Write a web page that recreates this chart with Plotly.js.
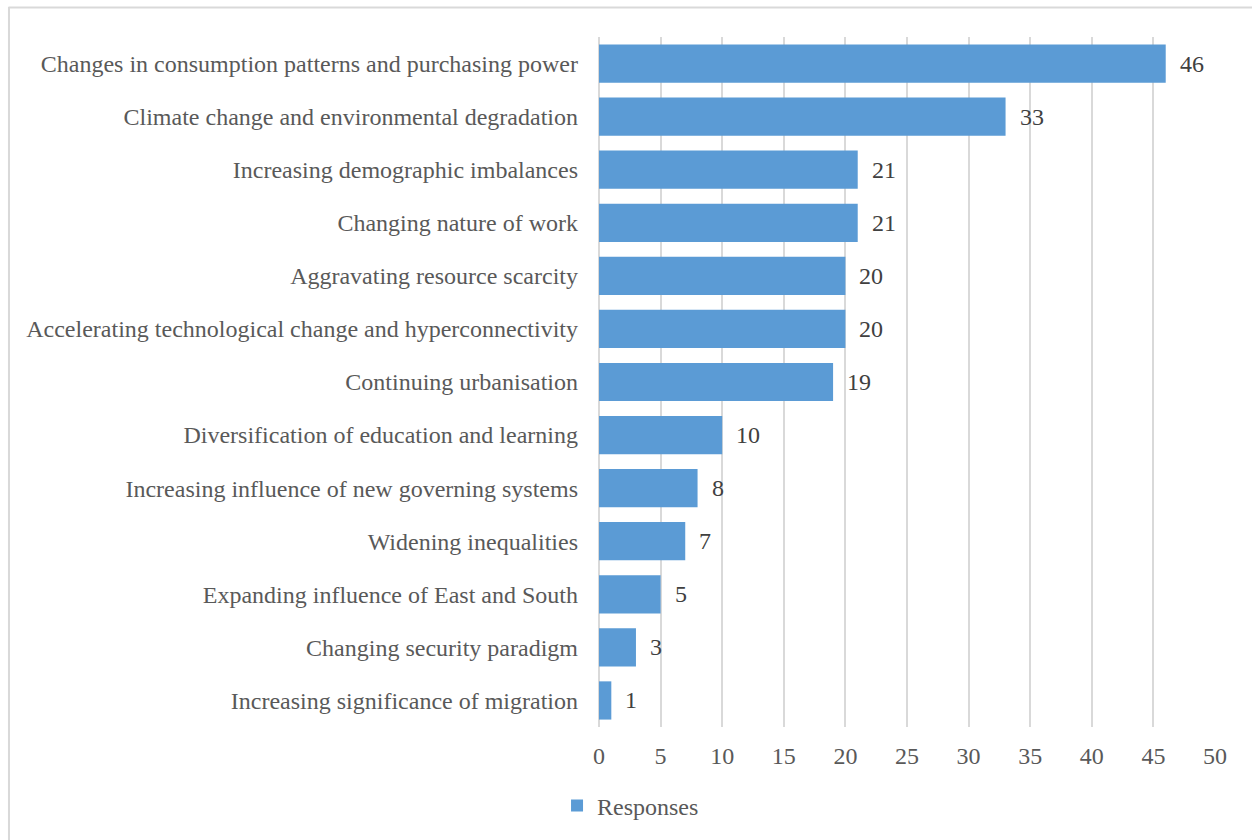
<!DOCTYPE html>
<html>
<head>
<meta charset="utf-8">
<script src="https://cdn.plot.ly/plotly-3.0.1.min.js"></script>
<style>
html,body{margin:0;padding:0;background:#fff;}
#chart{width:1252px;height:840px;}
</style>
</head>
<body>
<div id="chart"></div>
<script>
const categories = [
  "Changes in consumption patterns and purchasing power",
  "Climate change and environmental degradation",
  "Increasing demographic imbalances",
  "Changing nature of work",
  "Aggravating resource scarcity",
  "Accelerating technological change and hyperconnectivity",
  "Continuing urbanisation",
  "Diversification of education and learning",
  "Increasing influence of new governing systems",
  "Widening inequalities",
  "Expanding influence of East and South",
  "Changing security paradigm",
  "Increasing significance of migration"
];
const responses = [46, 33, 21, 21, 20, 20, 19, 10, 8, 7, 5, 3, 1];
const seriesName = "Responses";
const xTicks = [0, 5, 10, 15, 20, 25, 30, 35, 40, 45, 50];

const FONT = "'Liberation Serif', 'Times New Roman', serif";
const FS = 24;
const L = 599, R = 1215.5, T = 37, B = 727;
const W = 1252, H = 840;
const pw = R - L, ph = B - T;

const trace = {
  type: 'bar',
  orientation: 'h',
  name: seriesName,
  x: responses,
  y: categories,
  marker: {color: '#5B9BD5', line: {width: 0}},
  hoverinfo: 'x+y',
  showlegend: true
};

const annotations = categories.map((c, i) => ({
  x: responses[i], y: c, xref: 'x', yref: 'y',
  text: String(responses[i]), showarrow: false,
  xanchor: 'left', yanchor: 'middle', xshift: 12,
  font: {family: FONT, size: FS, color: '#404040'}
}));

const layout = {
  width: W, height: H,
  margin: {l: L, r: W - R, t: T, b: H - B, pad: 0},
  paper_bgcolor: '#fff', plot_bgcolor: '#fff',
  font: {family: FONT, size: FS, color: '#595959'},
  bargap: 0.28,
  xaxis: {
    range: [0, 50], tickvals: xTicks, ticktext: xTicks.map(String),
    showgrid: true, gridcolor: '#d9d9d9', gridwidth: 2,
    zeroline: true, zerolinecolor: '#d9d9d9', zerolinewidth: 2,
    showline: false, ticks: '', ticklabelstandoff: 12,
    tickfont: {family: FONT, size: FS, color: '#595959'},
    fixedrange: true
  },
  yaxis: {
    type: 'category', autorange: 'reversed',
    showgrid: false, zeroline: false, showline: false, ticks: '',
    ticklabelstandoff: 20,
    tickfont: {family: FONT, size: FS, color: '#595959'},
    fixedrange: true
  },
  showlegend: true,
  legend: {
    orientation: 'h', x: (557 - L) / pw, xanchor: 'left',
    y: (B - 806) / ph, yanchor: 'middle',
    font: {family: FONT, size: FS, color: '#595959'},
    itemwidth: 30, itemsizing: 'constant', bgcolor: 'rgba(0,0,0,0)'
  },
  annotations: annotations,
  shapes: [
    {type: 'line', xref: 'paper', yref: 'paper',
     x0: (8 - L) / pw, x1: (W + 5 - L) / pw, y0: (B - 7.5) / ph, y1: (B - 7.5) / ph,
     line: {color: '#d9d9d9', width: 2}},
    {type: 'line', xref: 'paper', yref: 'paper',
     x0: (8.5 - L) / pw, x1: (8.5 - L) / pw, y0: (B - 7) / ph, y1: (B - H - 5) / ph,
     line: {color: '#d9d9d9', width: 2}}
  ]
};

Plotly.newPlot('chart', [trace], layout, {displayModeBar: false, staticPlot: false});
</script>
</body>
</html>
